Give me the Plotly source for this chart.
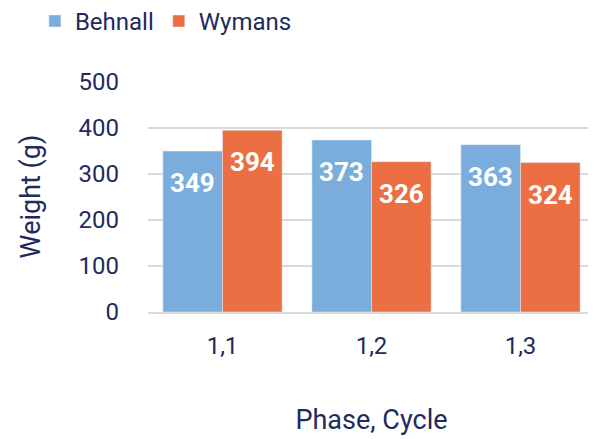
import plotly.graph_objects as go

categories = ["1,1", "1,2", "1,3"]
behnall = [349, 373, 363]
wymans = [394, 326, 324]
series_names = ["Behnall", "Wymans"]

BLUE = "#7aaddb"
ORANGE = "#eb6f42"
NAVY = "#1f2b5c"
FONT = "Roboto"

fig = go.Figure()
fig.add_trace(go.Bar(x=categories, y=behnall, name=series_names[0], marker_color=BLUE))
fig.add_trace(go.Bar(x=categories, y=wymans, name=series_names[1], marker_color=ORANGE))

for vals, shift in [(behnall, -29.8), (wymans, 29.8)]:
    for c, v in zip(categories, vals):
        fig.add_annotation(x=c, y=v, text=f"<b>{v}</b>", showarrow=False,
                           xshift=shift, yshift=-15, yanchor="top",
                           font=dict(family=FONT, size=26, color="white"))

# page body adds an 8px offset, so the figure is sized 8px smaller
fig.update_layout(
    width=588, height=431,
    margin=dict(l=140, r=1, t=73, b=127, autoexpand=False),
    plot_bgcolor="white", paper_bgcolor="white",
    barmode="group", bargap=0.2, bargroupgap=0,
    font=dict(family=FONT, color=NAVY, size=24),
    legend=dict(orientation="h", x=-0.253, y=1.258, xanchor="left", yanchor="middle",
                font=dict(size=24, color=NAVY), itemwidth=30, traceorder="normal"),
    xaxis=dict(showgrid=False, showline=True, linecolor="#d9d9d9", linewidth=1.5,
               ticks="", ticklabelstandoff=11, tickfont=dict(size=24), automargin=False,
               title=dict(text="Phase, Cycle", standoff=52, font=dict(size=27))),
    yaxis=dict(range=[0, 501], tickvals=[0, 100, 200, 300, 400, 500],
               gridcolor="#d9d9d9", gridwidth=1.5, zeroline=False, automargin=False,
               ticks="", ticklabelstandoff=28, tickfont=dict(size=24),
               title=dict(text="Weight (g)", standoff=30, font=dict(size=27))),
)

fig.write_html("out.html")
